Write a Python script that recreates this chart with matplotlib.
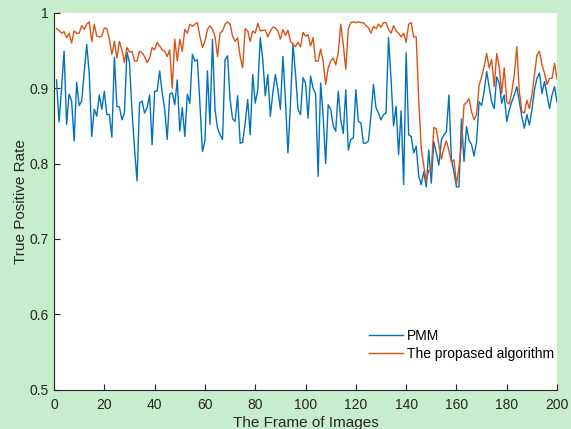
import numpy as np
import matplotlib
matplotlib.use("Agg")
import matplotlib.pyplot as plt

#frame numbers
frames = list(range(1, 201))
#true positive rate of PMM
pmm = [0.911, 0.855, 0.900, 0.949, 0.852, 0.892, 0.883, 0.830, 0.908, 0.877,
       0.883, 0.920, 0.958, 0.920, 0.836, 0.872, 0.863, 0.891, 0.872, 0.896,
       0.865, 0.865, 0.835, 0.941, 0.876, 0.875, 0.858, 0.867, 0.948, 0.934,
       0.870, 0.820, 0.777, 0.880, 0.883, 0.867, 0.874, 0.891, 0.825, 0.896,
       0.896, 0.923, 0.894, 0.872, 0.832, 0.892, 0.894, 0.878, 0.911, 0.843,
       0.874, 0.836, 0.892, 0.880, 0.945, 0.936, 0.938, 0.880, 0.816, 0.830,
       0.923, 0.852, 0.965, 0.872, 0.847, 0.838, 0.832, 0.938, 0.943, 0.885,
       0.859, 0.856, 0.890, 0.827, 0.828, 0.854, 0.885, 0.838, 0.918, 0.880,
       0.898, 0.967, 0.938, 0.890, 0.918, 0.863, 0.894, 0.918, 0.898, 0.872,
       0.942, 0.885, 0.814, 0.878, 0.958, 0.920, 0.872, 0.865, 0.914, 0.907,
       0.860, 0.916, 0.900, 0.892, 0.783, 0.907, 0.863, 0.800, 0.878, 0.872,
       0.850, 0.843, 0.896, 0.858, 0.840, 0.898, 0.818, 0.832, 0.834, 0.898,
       0.856, 0.854, 0.827, 0.827, 0.830, 0.863, 0.905, 0.874, 0.867, 0.858,
       0.865, 0.867, 0.967, 0.911, 0.850, 0.876, 0.812, 0.870, 0.772, 0.947,
       0.838, 0.836, 0.814, 0.823, 0.783, 0.772, 0.789, 0.769, 0.818, 0.774,
       0.829, 0.814, 0.798, 0.831, 0.838, 0.842, 0.891, 0.805, 0.789, 0.769,
       0.769, 0.859, 0.803, 0.849, 0.831, 0.825, 0.810, 0.829, 0.882, 0.877,
       0.895, 0.922, 0.902, 0.882, 0.873, 0.915, 0.907, 0.880, 0.891, 0.856,
       0.871, 0.882, 0.891, 0.902, 0.882, 0.862, 0.847, 0.865, 0.851, 0.871,
       0.898, 0.913, 0.920, 0.893, 0.909, 0.891, 0.873, 0.891, 0.902, 0.881]
#true positive rate of the proposed algorithm
proposed = [0.979, 0.977, 0.973, 0.975, 0.967, 0.973, 0.960, 0.976, 0.973, 0.973,
            0.983, 0.978, 0.985, 0.988, 0.962, 0.985, 0.969, 0.968, 0.969, 0.980,
            0.979, 0.965, 0.945, 0.962, 0.940, 0.962, 0.951, 0.934, 0.954, 0.948,
            0.949, 0.936, 0.936, 0.949, 0.947, 0.942, 0.934, 0.940, 0.954, 0.951,
            0.961, 0.956, 0.951, 0.949, 0.942, 0.951, 0.900, 0.965, 0.936, 0.965,
            0.949, 0.978, 0.973, 0.985, 0.982, 0.985, 0.987, 0.969, 0.954, 0.962,
            0.978, 0.983, 0.978, 0.969, 0.942, 0.973, 0.976, 0.985, 0.988, 0.985,
            0.969, 0.962, 0.967, 0.942, 0.927, 0.979, 0.976, 0.962, 0.976, 0.973,
            0.986, 0.976, 0.977, 0.977, 0.968, 0.976, 0.981, 0.980, 0.976, 0.965,
            0.978, 0.970, 0.977, 0.962, 0.959, 0.955, 0.961, 0.955, 0.974, 0.969,
            0.971, 0.956, 0.967, 0.936, 0.936, 0.952, 0.936, 0.905, 0.927, 0.936,
            0.940, 0.931, 0.947, 0.985, 0.958, 0.925, 0.979, 0.987, 0.988, 0.987,
            0.988, 0.987, 0.987, 0.983, 0.980, 0.973, 0.982, 0.979, 0.985, 0.981,
            0.987, 0.987, 0.978, 0.973, 0.983, 0.976, 0.973, 0.968, 0.973, 0.961,
            0.985, 0.987, 0.968, 0.968, 0.885, 0.820, 0.797, 0.776, 0.791, 0.792,
            0.848, 0.846, 0.825, 0.806, 0.820, 0.830, 0.817, 0.802, 0.805, 0.773,
            0.795, 0.825, 0.878, 0.881, 0.886, 0.869, 0.858, 0.865, 0.904, 0.915,
            0.929, 0.946, 0.927, 0.938, 0.902, 0.946, 0.929, 0.893, 0.927, 0.882,
            0.879, 0.895, 0.918, 0.955, 0.895, 0.869, 0.867, 0.884, 0.873, 0.891,
            0.918, 0.944, 0.949, 0.931, 0.920, 0.905, 0.913, 0.913, 0.933, 0.912]

x_ticks = [0, 20, 40, 60, 80, 100, 120, 140, 160, 180, 200]
y_ticks = [0.5, 0.6, 0.7, 0.8, 0.9, 1.0]
y_tick_labels = ["0.5", "0.6", "0.7", "0.8", "0.9", "1"]

plt.rcParams["font.family"] = ["Liberation Sans", "DejaVu Sans"]
text_color = "#262626"

#set up the canvas with the green background
fig = plt.figure(figsize=(5.71, 4.29), dpi=100, facecolor="#C7EDCC")
ax = fig.add_axes([0.0946, 0.092, 0.881, 0.878])
ax.set_facecolor("white")

ax.plot(frames, pmm, color="#0072BD", linewidth=1.0, label="PMM")
ax.plot(frames, proposed, color="#D95319", linewidth=1.0, label="The propased algorithm")

ax.set_xlim(0, 200)
ax.set_ylim(0.5, 1)
ax.set_xticks(x_ticks)
ax.set_yticks(y_ticks)
ax.set_yticklabels(y_tick_labels)
ax.tick_params(direction="in", length=4, width=0.8, labelsize=10,
               colors=text_color)
ax.tick_params(axis="x", pad=6)
ax.tick_params(axis="y", pad=4)
#box off like matlab
ax.spines["top"].set_visible(False)
ax.spines["right"].set_visible(False)
for s in ["left", "bottom"]:
    ax.spines[s].set_color(text_color)
    ax.spines[s].set_linewidth(0.8)

ax.set_xlabel("The Frame of Images", fontsize=11, color=text_color, labelpad=3)
ax.set_ylabel("True Positive Rate", fontsize=11, color=text_color, labelpad=1)

#legend without frame in the lower right
fig.legend(loc="upper left",
           bbox_to_anchor=(369 / 571, 1 - 329 / 429),
           frameon=False,
           fontsize=10,
           handlelength=2.45,
           handletextpad=0.3,
           labelspacing=0.3,
           borderpad=0,
           borderaxespad=0)

fig.savefig("out.png", dpi=100, facecolor=fig.get_facecolor())
